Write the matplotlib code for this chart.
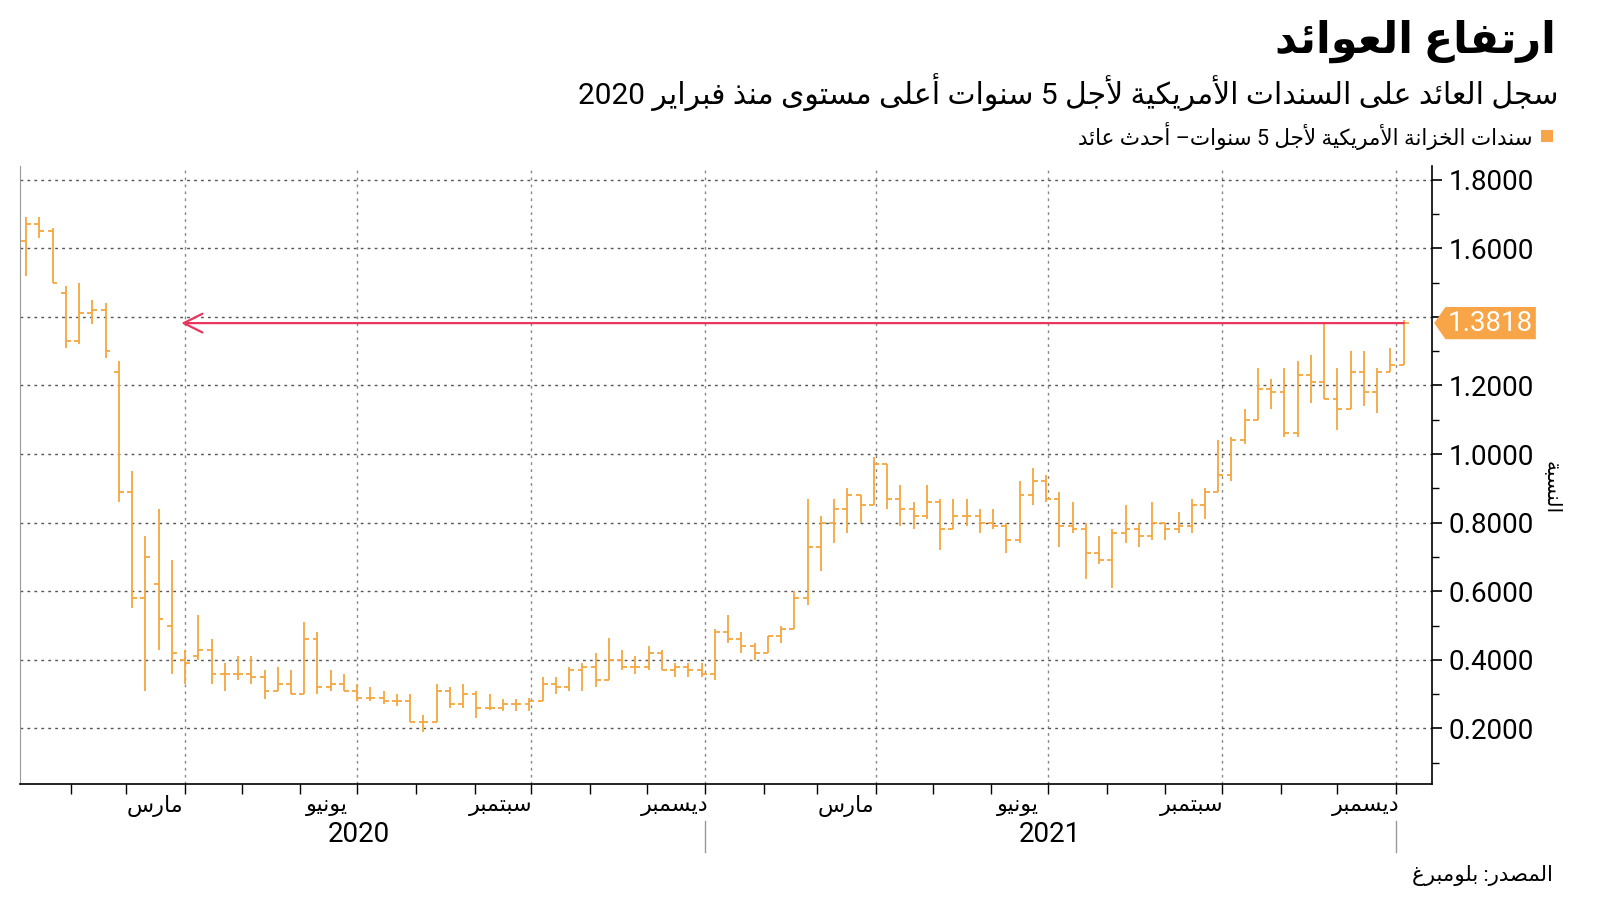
import matplotlib
matplotlib.use('Agg')
import matplotlib.pyplot as plt
import matplotlib.dates as mdates
import matplotlib.transforms as mtransforms
from matplotlib.patches import Polygon, Rectangle
from matplotlib.ticker import FuncFormatter
import numpy as np
import pandas as pd

plt.rcParams['font.family'] = ['Roboto', 'DejaVu Sans']

# matplotlib does no Arabic shaping, so map letters to their presentation forms
# (isolated, final, initial, medial follow each other from the base code point)
DUAL = {'ئ': 0xFE89, 'ب': 0xFE8F, 'ت': 0xFE95, 'ث': 0xFE99, 'ج': 0xFE9D, 'ح': 0xFEA1,
        'خ': 0xFEA5, 'س': 0xFEB1, 'ش': 0xFEB5, 'ص': 0xFEB9, 'ض': 0xFEBD, 'ط': 0xFEC1,
        'ظ': 0xFEC5, 'ع': 0xFEC9, 'غ': 0xFECD, 'ف': 0xFED1, 'ق': 0xFED5, 'ك': 0xFED9,
        'ل': 0xFEDD, 'م': 0xFEE1, 'ن': 0xFEE5, 'ه': 0xFEE9, 'ي': 0xFEF1}
RIGHT = {'آ': 0xFE81, 'أ': 0xFE83, 'ؤ': 0xFE85, 'إ': 0xFE87, 'ا': 0xFE8D, 'ة': 0xFE93,
         'د': 0xFEA9, 'ذ': 0xFEAB, 'ر': 0xFEAD, 'ز': 0xFEAF, 'و': 0xFEED, 'ى': 0xFEEF,
         'لآ': 0xFEF5, 'لأ': 0xFEF7, 'لإ': 0xFEF9, 'لا': 0xFEFB}


def shape(text):
    toks = []
    i = 0
    while i < len(text):
        if text[i] == 'ل' and i + 1 < len(text) and text[i + 1] in 'آأإا':
            toks.append(text[i:i + 2])
            i += 2
        else:
            toks.append(text[i])
            i += 1
    out = []
    for k, t in enumerate(toks):
        prev = toks[k - 1] if k > 0 else ''
        nxt = toks[k + 1] if k + 1 < len(toks) else ''
        joins_prev = prev in DUAL
        if t in DUAL:
            joins_next = nxt in DUAL or nxt in RIGHT
            out.append(chr(DUAL[t] + [[0, 2], [1, 3]][joins_prev][joins_next]))
        elif t in RIGHT:
            out.append(chr(RIGHT[t] + joins_prev))
        else:
            out.append(t)
    return out


def rtl(text):
    # visual order: reverse everything but keep digit runs left to right
    res, run = [], []
    for g in reversed(shape(text)):
        if g.isdigit():
            run.append(g)
        else:
            if run:
                res.extend(reversed(run))
                run = []
            res.append(g)
    res.extend(reversed(run))
    return ''.join(res)


title = 'ارتفاع العوائد'
subtitle = 'سجل العائد على السندات الأمريكية لأجل 5 سنوات أعلى مستوى منذ فبراير 2020'
legend_label = 'سندات الخزانة الأمريكية لأجل 5 سنوات– أحدث عائد'
source = 'المصدر: بلومبرغ'
y_label = 'النسبة'

month_names = ['مارس', 'يونيو', 'سبتمبر', 'ديسمبر', 'مارس', 'يونيو', 'سبتمبر', 'ديسمبر']
month_ticks = ['2020-03-16', '2020-06-15', '2020-09-15', '2020-12-16',
               '2021-03-16', '2021-06-15', '2021-09-15', '2021-12-16']
years = ['2020', '2021']
year_pos = ['2020-07-02', '2021-07-02']
year_breaks = ['2021-01-01', '2022-01-01']

# weekly bars of the US 5-year yield
week_dates = pd.date_range('2020-01-08', periods=105, freq='7D')
opens = [1.62, 1.67, 1.65, 1.47, 1.33, 1.41, 1.42, 1.24, 0.89, 0.58, 0.62, 0.50, 0.40, 0.41, 0.43,
         0.36, 0.36, 0.36, 0.35, 0.31, 0.33, 0.30, 0.46, 0.32, 0.33, 0.31, 0.29, 0.29, 0.28, 0.28,
         0.22, 0.22, 0.31, 0.27, 0.30, 0.26, 0.26, 0.27, 0.27, 0.28, 0.33, 0.32, 0.37, 0.38, 0.34,
         0.40, 0.38, 0.38, 0.42, 0.37, 0.38, 0.37, 0.36, 0.48, 0.46, 0.44, 0.42, 0.47, 0.49, 0.58,
         0.73, 0.80, 0.84, 0.88, 0.85, 0.97, 0.87, 0.84, 0.82, 0.86, 0.78, 0.82, 0.82, 0.80, 0.79,
         0.75, 0.88, 0.92, 0.87, 0.79, 0.78, 0.71, 0.69, 0.77, 0.78, 0.76, 0.80, 0.78, 0.79, 0.85,
         0.89, 0.94, 1.04, 1.10, 1.19, 1.18, 1.06, 1.23, 1.21, 1.16, 1.13, 1.24, 1.18, 1.24, 1.26]
highs = [1.69, 1.69, 1.66, 1.49, 1.50, 1.45, 1.44, 1.27, 0.95, 0.76, 0.84, 0.69, 0.43, 0.53, 0.46,
         0.39, 0.41, 0.41, 0.37, 0.38, 0.37, 0.51, 0.48, 0.37, 0.36, 0.33, 0.32, 0.31, 0.30, 0.30,
         0.24, 0.33, 0.32, 0.33, 0.31, 0.30, 0.285, 0.285, 0.29, 0.35, 0.35, 0.38, 0.39, 0.42, 0.465,
         0.43, 0.41, 0.44, 0.43, 0.39, 0.39, 0.39, 0.49, 0.53, 0.48, 0.45, 0.47, 0.50, 0.60, 0.87,
         0.82, 0.87, 0.90, 0.88, 0.99, 0.97, 0.91, 0.86, 0.91, 0.87, 0.87, 0.87, 0.84, 0.84, 0.80,
         0.92, 0.96, 0.94, 0.89, 0.86, 0.80, 0.76, 0.78, 0.85, 0.80, 0.86, 0.80, 0.83, 0.87, 0.90,
         1.04, 1.05, 1.13, 1.25, 1.22, 1.25, 1.27, 1.29, 1.38, 1.25, 1.30, 1.30, 1.25, 1.31, 1.39]
lows = [1.52, 1.63, 1.50, 1.31, 1.32, 1.38, 1.28, 0.86, 0.55, 0.31, 0.43, 0.36, 0.33, 0.40, 0.33,
        0.31, 0.34, 0.33, 0.285, 0.31, 0.30, 0.30, 0.30, 0.31, 0.31, 0.28, 0.28, 0.27, 0.265, 0.22,
        0.19, 0.22, 0.26, 0.26, 0.23, 0.255, 0.25, 0.25, 0.25, 0.28, 0.30, 0.31, 0.31, 0.32, 0.34,
        0.37, 0.36, 0.37, 0.37, 0.35, 0.35, 0.35, 0.34, 0.45, 0.42, 0.40, 0.42, 0.45, 0.49, 0.56,
        0.66, 0.74, 0.77, 0.80, 0.85, 0.84, 0.79, 0.78, 0.81, 0.72, 0.78, 0.79, 0.77, 0.78, 0.71,
        0.74, 0.85, 0.86, 0.73, 0.77, 0.635, 0.68, 0.61, 0.74, 0.73, 0.75, 0.75, 0.77, 0.77, 0.81,
        0.89, 0.92, 1.03, 1.10, 1.13, 1.05, 1.05, 1.15, 1.16, 1.07, 1.13, 1.14, 1.12, 1.24, 1.26]
closes = [1.67, 1.65, 1.50, 1.33, 1.41, 1.42, 1.30, 0.89, 0.58, 0.70, 0.52, 0.42, 0.39, 0.43, 0.36,
          0.36, 0.36, 0.35, 0.31, 0.33, 0.30, 0.46, 0.32, 0.33, 0.31, 0.29, 0.29, 0.28, 0.28, 0.22,
          0.22, 0.31, 0.27, 0.30, 0.26, 0.26, 0.27, 0.27, 0.28, 0.33, 0.32, 0.37, 0.38, 0.34, 0.40,
          0.38, 0.38, 0.42, 0.37, 0.38, 0.37, 0.36, 0.48, 0.46, 0.44, 0.42, 0.47, 0.49, 0.58, 0.73,
          0.80, 0.84, 0.88, 0.85, 0.97, 0.87, 0.84, 0.82, 0.86, 0.78, 0.82, 0.82, 0.80, 0.79, 0.75,
          0.88, 0.92, 0.87, 0.79, 0.78, 0.71, 0.69, 0.77, 0.78, 0.76, 0.80, 0.78, 0.79, 0.85, 0.89,
          0.94, 1.04, 1.10, 1.19, 1.18, 1.06, 1.23, 1.21, 1.16, 1.13, 1.24, 1.18, 1.24, 1.26, 1.3818]
last_value = 1.3818
arrow_to = '2020-03-30'

ORANGE = '#f5a63e'
TAG = '#f7a547'
RED = '#e8365d'

fig = plt.figure(figsize=(16, 9.01), dpi=100)
ax = fig.add_axes([0.01275, 0.1299, 0.8823, 0.6859])

x = mdates.date2num(week_dates)
half = 2.6
ax.vlines(x, lows, highs, color=ORANGE, lw=1.3, zorder=3)
ax.hlines(opens, x - half, x, color=ORANGE, lw=1.3, zorder=3)
ax.hlines(closes, x, x + half, color=ORANGE, lw=1.3, zorder=3)

ax.set_xlim(mdates.date2num(pd.Timestamp('2020-01-05')), mdates.date2num(pd.Timestamp('2022-01-20')))
ax.set_ylim(0.038, 1.84)

# grid
ax.set_yticks(np.arange(0.2, 1.81, 0.2))
ax.set_yticks(np.arange(0.1, 1.8, 0.2), minor=True)
# the label under the last-value tag is hidden, as in the original
ax.yaxis.set_major_formatter(FuncFormatter(lambda v, p: '' if abs(v - last_value) < 0.06 else f'{v:.4f}'))
ax.grid(axis='y', which='major', color='#555555', linestyle=(0, (2, 3)), lw=1)
for d in pd.date_range('2020-04-01', '2022-01-01', freq='QS'):
    ax.axvline(mdates.date2num(d), color='#888888', linestyle=(0, (2, 3)), lw=1, zorder=1)

ax.yaxis.tick_right()
ax.tick_params(axis='y', which='major', length=7, width=1.2, pad=5, labelsize=20)
ax.tick_params(axis='y', which='minor', length=5, width=1)

ax.set_xticks(mdates.date2num(pd.to_datetime(month_ticks)))
ax.set_xticklabels([rtl(m) for m in month_names])
ax.xaxis.set_minor_locator(mdates.MonthLocator())
ax.tick_params(axis='x', which='major', length=0, pad=8, labelsize=16)
ax.tick_params(axis='x', which='minor', length=7, width=1)

ax.spines['top'].set_visible(False)
ax.spines['left'].set_color('#999999')
ax.spines['right'].set_linewidth(1.2)
ax.spines['bottom'].set_linewidth(1.2)

# year labels and separators under the month labels
xy_blend = mtransforms.blended_transform_factory(ax.transData, ax.transAxes)
for yr, pos in zip(years, year_pos):
    ax.text(mdates.date2num(pd.Timestamp(pos)), -0.0825, yr, transform=xy_blend,
            ha='center', va='center', fontsize=20)
for b in year_breaks:
    bx = mdates.date2num(pd.Timestamp(b))
    ax.plot([bx, bx], [-0.060, -0.110], transform=xy_blend, color='#999999', lw=1, clip_on=False)

# arrow back to the last time the yield was here
ax.annotate('', xy=(mdates.date2num(pd.Timestamp(arrow_to)), last_value), xytext=(x[-1], last_value),
            arrowprops=dict(arrowstyle='->,head_length=0.9,head_width=0.45', color=RED, lw=1.6,
                            mutation_scale=15, shrinkA=0, shrinkB=0), zorder=4)

# last value tag on the right axis
yx_blend = mtransforms.blended_transform_factory(ax.transAxes, ax.transData)
h = 0.047
tag = Polygon([(1.0015, last_value), (1.0095, last_value + h), (1.0735, last_value + h),
               (1.0735, last_value - h), (1.0095, last_value - h)], closed=True,
              transform=yx_blend, clip_on=False, facecolor=TAG, edgecolor='none', zorder=5)
ax.add_patch(tag)
ax.text(1.0412, last_value, f'{last_value:.4f}', transform=yx_blend, ha='center', va='center',
        fontsize=20, color='white', zorder=6)

# titles and notes
fig.text(1556 / 1600, 1 - 41 / 901, rtl(title), ha='right', va='center', fontsize=31, fontweight='bold')
fig.text(1558 / 1600, 1 - 92 / 901, rtl(subtitle), ha='right', va='center', fontsize=21.5)
fig.patches.append(Rectangle((1541 / 1600, 1 - 142 / 901), 12 / 1600, 12 / 901,
                             transform=fig.transFigure, facecolor=TAG, edgecolor='none'))
fig.text(1533 / 1600, 1 - 136 / 901, rtl(legend_label), ha='right', va='center', fontsize=15.5)
fig.text(1551 / 1600, 1 - 488 / 901, rtl(y_label), ha='center', va='center', rotation=-90, fontsize=14.5)
fig.text(1553 / 1600, 1 - 875 / 901, rtl(source), ha='right', va='center', fontsize=15.3)

fig.savefig('out.png', dpi=100)
